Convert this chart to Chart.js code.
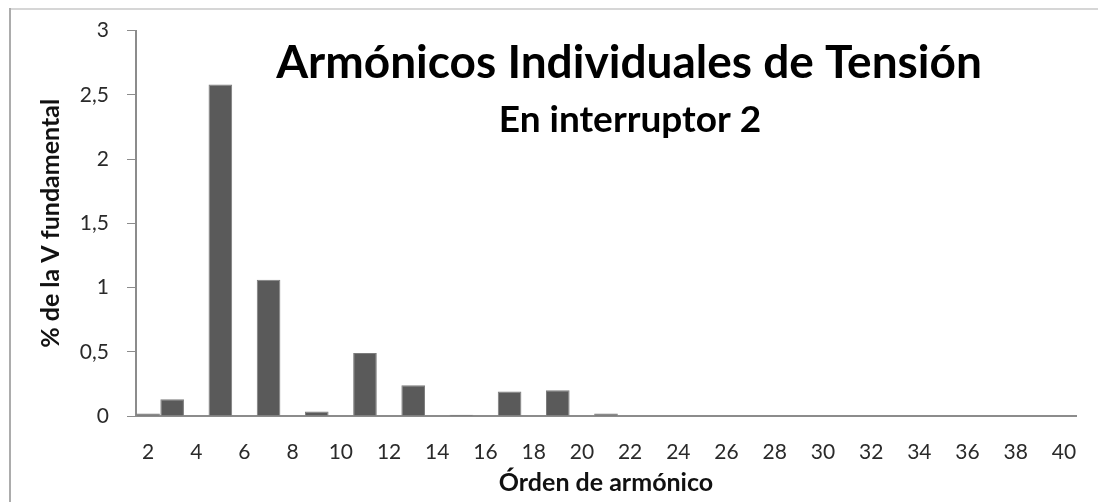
<!DOCTYPE html>
<html><head><meta charset="utf-8">
<script src="https://cdn.jsdelivr.net/npm/chart.js@4/dist/chart.umd.min.js"></script>
<style>html,body{margin:0;padding:0;background:#fff}#wrap{position:relative;width:1098px;height:502px}</style>
</head><body><div id="wrap"><canvas id="c" width="1098" height="502" style="width:1098px;height:502px"></canvas></div>
<script>
const categories = ['2','3','4','5','6','7','8','9','10','11','12','13','14','15','16','17','18','19','20','21','22','23','24','25','26','27','28','29','30','31','32','33','34','35','36','37','38','39','40'];
const values = [0.02,0.13,0,2.58,0,1.06,0,0.035,0,0.49,0,0.24,0,0.01,0,0.19,0,0.2,0,0.02,0,0,0,0,0,0,0,0,0,0,0,0,0,0,0,0,0,0,0];
const yTicks = [0,0.5,1,1.5,2,2.5,3];
const titleText = 'Armónicos Individuales de Tensión';
const subtitleText = 'En interruptor 2';
const xTitle = 'Órden de armónico';
const yTitle = '% de la V fundamental';

const overlay = {
  id: 'overlay',
  beforeDraw(chart) {
    const ctx = chart.ctx;
    ctx.save();
    ctx.fillStyle = '#fff';
    ctx.fillRect(0,0,chart.width,chart.height);
    ctx.lineWidth = 2;
    ctx.strokeStyle = '#d6d6d6';
    ctx.beginPath(); ctx.moveTo(10,9); ctx.lineTo(1098,9); ctx.stroke();
    ctx.strokeStyle = '#acacac';
    ctx.beginPath(); ctx.moveTo(10,8); ctx.lineTo(10,502); ctx.stroke();
    ctx.restore();
  },
  afterDraw(chart) {
    const ctx = chart.ctx;
    ctx.save();
    ctx.fillStyle = '#000';
    ctx.textAlign = 'center';
    ctx.textBaseline = 'alphabetic';
    ctx.font = 'bold 46px Lato';
    ctx.fillText(titleText, 629, 78);
    ctx.font = 'bold 37px Lato';
    ctx.fillText(subtitleText, 630, 132);
    ctx.restore();
  }
};

new Chart(document.getElementById('c'), {
  type: 'bar',
  data: { labels: categories, datasets: [{ data: values, backgroundColor: '#5a5a5a', borderColor: '#7c7c7c', borderWidth: 1, barPercentage: 0.98, categoryPercentage: 1 }] },
  options: {
    responsive: false, animation: false, devicePixelRatio: 1,
    layout: { padding: { top: 25, right: 22, left: 0, bottom: 0 } },
    plugins: { legend: { display: false }, tooltip: { enabled: false } },
    scales: {
      x: {
        afterFit(s) { s.height = 86; },
        grid: { display: false },
        border: { display: true, color: '#8c8c8c', width: 2 },
        ticks: { autoSkip: false, maxRotation: 0, minRotation: 0, padding: 16, color: '#2a2a2a', font: { family: 'Lato', size: 21 },
          callback(v, i) { return i % 2 === 0 ? categories[i] : ''; } },
        title: { display: true, text: xTitle, color: '#111', font: { family: 'Lato', size: 25, weight: 'bold' }, padding: { top: 0, bottom: 4 } }
      },
      y: {
        min: 0, max: 3,
        afterFit(s) { s.width = 136; },
        afterBuildTicks(s) { s.ticks = yTicks.map(v => ({ value: v })); },
        grid: { drawOnChartArea: false, drawTicks: true, tickLength: 9, color: '#8c8c8c', lineWidth: 1 },
        border: { display: true, color: '#8c8c8c', width: 2 },
        ticks: { padding: 18, color: '#2a2a2a', font: { family: 'Lato', size: 21 }, callback(v) { return String(v).replace('.', ','); } },
        title: { display: true, text: yTitle, color: '#111', font: { family: 'Lato', size: 25, weight: 'bold' }, padding: { top: 36, bottom: 0 } }
      }
    }
  },
  plugins: [overlay]
});
</script></body></html>
